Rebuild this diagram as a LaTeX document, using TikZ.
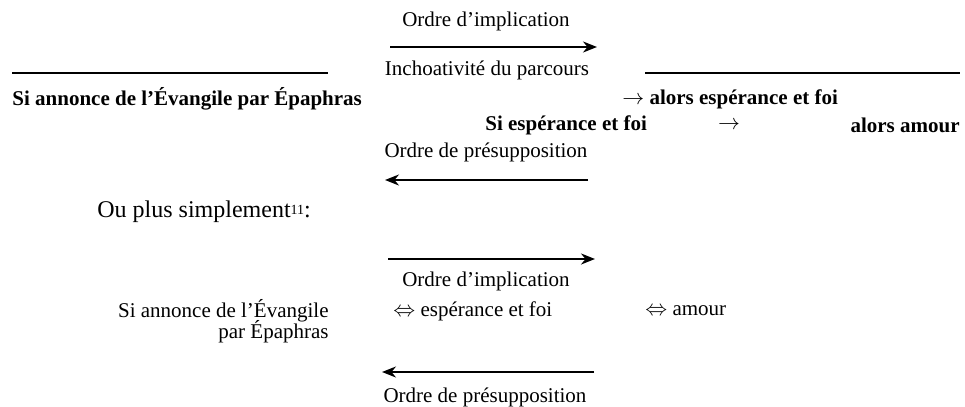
\documentclass[tikz,border=0pt]{standalone}
\usepackage{fontspec}
\setmainfont{Liberation Serif}
\usetikzlibrary{arrows.meta}

\begin{document}
\begin{tikzpicture}[x=0.5pt,y=-0.5pt,>={Stealth[length=7pt,width=5.5pt]},
        plain text/.style={inner sep=0pt,font=\fontsize{10.5}{12}\selectfont},
        bold text/.style={inner sep=0pt,font=\fontsize{10.5}{12}\selectfont\bfseries},
        order arrow/.style={line width=0.95pt},
        rule line/.style={line width=0.6pt}]
        \useasboundingbox (0,0) rectangle (965,407);
        % premier schema
        \node[plain text] (impl1) at (486,21) {Ordre d’implication};
        \node[plain text] (inch) at (487,70) {Inchoativité du parcours};
        \coordinate (a1l) at (390,47);
        \coordinate (a1r) at (597,47);
        \coordinate (r1l) at (12,73);
        \coordinate (r1r) at (328,73);
        \coordinate (r2l) at (645,73);
        \coordinate (r2r) at (960,73);
        \node[bold text,anchor=west] (si1) at (12,99) {Si annonce de l’Évangile par Épaphras};
        \node[bold text,anchor=west] (alors1) at (622,99) {$\rightarrow$ alors espérance et foi};
        \node[bold text,anchor=west] (si2) at (485,125) {Si espérance et foi};
        \node[bold text] (fl2) at (729,125) {$\rightarrow$};
        \node[bold text,anchor=east] (alors2) at (960,125) {alors amour};
        \node[plain text] (pres1) at (486,152) {Ordre de présupposition};
        \coordinate (a2l) at (385,180);
        \coordinate (a2r) at (588,180);
        \path[order arrow]
        (a1l) edge[->] (a1r)
        (a2r) edge[->] (a2l);
        \path[rule line]
        (r1l) edge (r1r)
        (r2l) edge (r2r);
        % second schema
        \node[inner sep=0pt,font=\fontsize{12}{14}\selectfont,anchor=west] (simp) at (97,212) {Ou plus simplement{\fontsize{7}{8}\selectfont\raisebox{.55ex}{11}}:};
        \coordinate (a3l) at (388,259);
        \coordinate (a3r) at (595,259);
        \node[plain text] (impl2) at (486,281) {Ordre d’implication};
        \node[plain text,anchor=east] (ann) at (329,311) {Si annonce de l’Évangile};
        \node[plain text,anchor=east] (par) at (329,332) {par Épaphras};
        \node[plain text,anchor=west] (esp) at (393,311) {$\Leftrightarrow$ espérance et foi};
        \node[plain text,anchor=west] (am) at (645,311) {$\Leftrightarrow$ amour};
        \coordinate (a4l) at (382,372);
        \coordinate (a4r) at (594,372);
        \node[plain text] (pres2) at (485,397) {Ordre de présupposition};
        \path[order arrow]
        (a3l) edge[->] (a3r)
        (a4r) edge[->] (a4l);
\end{tikzpicture}
\end{document}
